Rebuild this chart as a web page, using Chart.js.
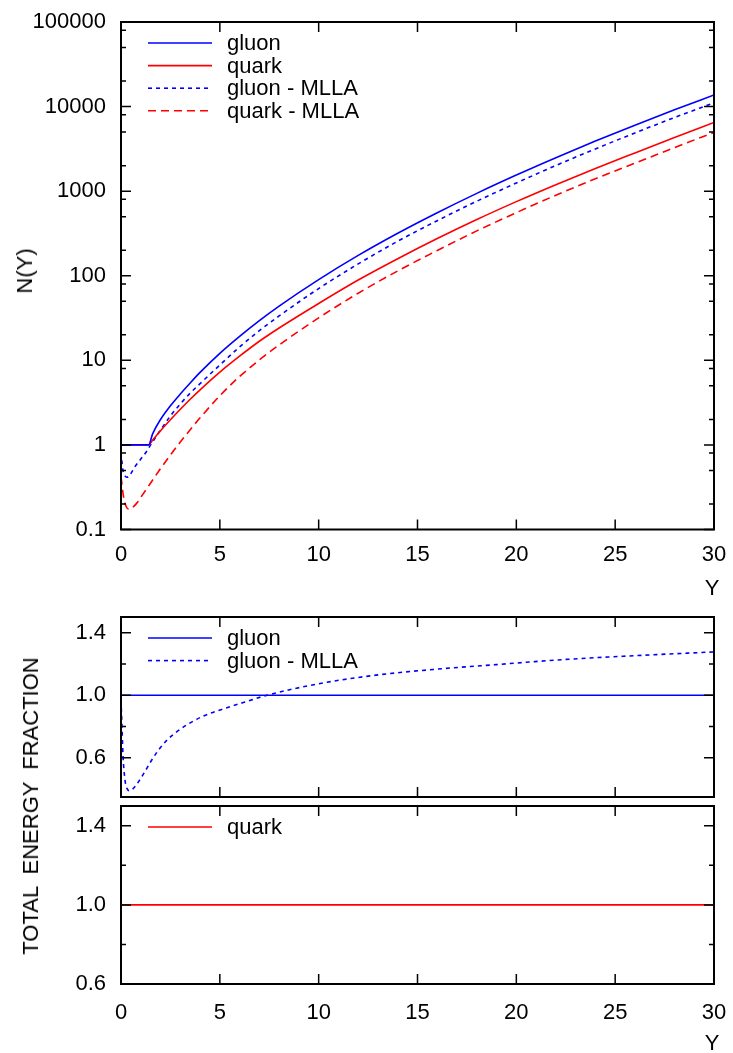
<!DOCTYPE html>
<html>
<head>
<meta charset="utf-8">
<script src="https://cdn.jsdelivr.net/npm/chart.js@4.4.1/dist/chart.umd.min.js"></script>
<style>
  html, body { margin: 0; padding: 0; background: #fff; }
  #wrap { position: relative; width: 733px; height: 1053px; font-family: 'Liberation Sans', Arial, sans-serif; }
  canvas { position: absolute; left: 0; }
  .lbl { position: absolute; font-size: 22px; color: #000; white-space: pre; transform: translate(-50%, -50%); }
  .rot { transform: translate(-50%, -50%) rotate(-90deg); }
</style>
</head>
<body>
<div id="wrap">
  <canvas id="nChart" width="733" height="600" style="top:0"></canvas>
  <canvas id="gluonChart" width="733" height="202" style="top:600px"></canvas>
  <canvas id="quarkChart" width="733" height="251" style="top:802px"></canvas>
  <div class="lbl rot" style="left:25px;top:271px">N(Y)</div>
  <div class="lbl" style="left:712px;top:588px">Y</div>
  <div class="lbl rot" style="left:31px;top:806px">TOTAL  ENERGY  FRACTION</div>
  <div class="lbl" style="left:712px;top:1043px">Y</div>
</div>
<script>
// --- multiplicity N(Y), top panel ---
const yGrid = [0, 0.5, 1, 1.4, 1.6, 2, 2.5, 3, 3.5, 4, 5, 6, 7, 8, 10, 12, 14, 16, 18, 20, 22, 24, 26, 28, 30];
const gluonN = [1, 1, 1, 1, 1.35, 2.0, 2.9, 4.0, 5.4, 7.2, 12.1, 19.2, 29.5, 43.8, 90, 174, 318, 556, 942, 1549, 2485, 3908, 6026, 9162, 13700];
const quarkN = [1, 1, 1, 1, 1.14, 1.47, 1.98, 2.64, 3.47, 4.48, 7.26, 11.2, 16.8, 24.1, 47, 89, 159, 275, 462, 752, 1193, 1856, 2832, 4300, 6500];

const gluonMllaY = [0, 0.05, 0.1, 0.2, 0.3, 0.45, 0.7, 1.0, 1.3, 1.5, 2, 2.5, 3, 3.5, 4, 5, 6, 7, 8, 10, 12, 14, 16, 18, 20, 22, 24, 26, 28, 30];
const gluonMllaN = [0.82, 0.62, 0.5, 0.43, 0.415, 0.44, 0.55, 0.68, 0.84, 1.0, 1.5, 2.2, 3.05, 4.1, 5.3, 8.8, 14.4, 22.4, 33.5, 70.5, 138, 256, 448, 760, 1250, 2010, 3160, 4880, 7420, 11100];

const quarkMllaY = [0, 0.05, 0.1, 0.2, 0.3, 0.4, 0.55, 0.8, 1.0, 1.5, 2, 2.5, 3, 3.5, 4, 5, 6, 7, 8, 10, 12, 14, 16, 18, 20, 22, 24, 26, 28, 30];
const quarkMllaN = [0.42, 0.34, 0.27, 0.204, 0.18, 0.174, 0.18, 0.205, 0.24, 0.355, 0.525, 0.76, 1.08, 1.51, 2.09, 3.81, 6.44, 10.1, 15.2, 31.8, 62.2, 114, 199, 339, 557, 895, 1403, 2148, 3273, 4955];

// --- total energy fraction, lower panels ---
const flatY = [0, 30];
const gluonE = [1.0, 1.0];
const quarkE = [1.0, 1.0];
const gluonMllaEY = [0, 0.05, 0.1, 0.2, 0.3, 0.45, 0.7, 0.9, 1.2, 1.5, 1.9, 2.3, 2.8, 3.4, 4.2, 5.4, 6.4, 7.3, 8.8, 10.6, 13, 15.8, 19, 22.5, 26, 30];
const gluonMllaE = [0.97, 0.8, 0.62, 0.46, 0.405, 0.39, 0.415, 0.45, 0.51, 0.575, 0.65, 0.71, 0.765, 0.816, 0.869, 0.922, 0.962, 0.997, 1.043, 1.087, 1.13, 1.165, 1.196, 1.229, 1.253, 1.277];

// axis ticks
const xTicks = [0, 5, 10, 15, 20, 25, 30];
const nTicks = [0.1, 1, 10, 100, 1000, 10000, 100000];
const nMinor = [0.2, 0.5, 0.8, 2, 5, 8, 20, 50, 80, 200, 500, 800, 2000, 5000, 8000, 20000, 50000, 80000];
const eTicks = [0.6, 1.0, 1.4];
const eMinor = [0.8, 1.2];

const BLUE = '#0000ff';
const RED = '#ff0000';
const FONT = { family: "'Liberation Sans', Arial, sans-serif", size: 22 };

const pts = (xs, ys) => xs.map((x, i) => ({ x: x, y: ys[i] }));

function line(label, xs, ys, color, dash) {
    return {
        label: label,
        data: pts(xs, ys),
        borderColor: color,
        backgroundColor: 'transparent',
        borderWidth: 1.6,
        borderDash: dash || [],
        pointRadius: 0,
        fill: false,
        cubicInterpolationMode: 'monotone'
    };
}

// frame with inward ticks on all four sides (gnuplot style)
const frameTicks = {
    id: 'frameTicks',
    afterDatasetsDraw(chart, args, opts) {
        const { ctx, chartArea: a, scales } = chart;
        const sx = scales.x, sy = scales.y;
        ctx.save();
        ctx.strokeStyle = '#000';
        ctx.lineWidth = 1.5;
        ctx.beginPath();
        opts.xMajor.forEach(v => {
            const px = sx.getPixelForValue(v);
            ctx.moveTo(px, a.bottom); ctx.lineTo(px, a.bottom - 10);
            ctx.moveTo(px, a.top); ctx.lineTo(px, a.top + 10);
        });
        const yTick = (v, len) => {
            const py = sy.getPixelForValue(v);
            ctx.moveTo(a.left, py); ctx.lineTo(a.left + len, py);
            ctx.moveTo(a.right, py); ctx.lineTo(a.right - len, py);
        };
        opts.yMajor.forEach(v => yTick(v, 10));
        opts.yMinor.forEach(v => yTick(v, 5));
        ctx.stroke();
        ctx.lineWidth = 2;
        ctx.strokeRect(a.left, a.top, a.right - a.left, a.bottom - a.top);
        ctx.restore();
    }
};

// key drawn inside the plot, sample line then label
const keyBox = {
    id: 'keyBox',
    afterDatasetsDraw(chart) {
        const { ctx, chartArea: a } = chart;
        ctx.save();
        ctx.font = '22px "Liberation Sans", Arial, sans-serif';
        ctx.textBaseline = 'middle';
        chart.data.datasets.forEach((ds, i) => {
            const yy = a.top + 21 + i * 22.6;
            ctx.strokeStyle = ds.borderColor;
            ctx.lineWidth = ds.borderWidth;
            ctx.setLineDash(ds.borderDash);
            ctx.beginPath();
            ctx.moveTo(a.left + 27, yy);
            ctx.lineTo(a.left + 91, yy);
            ctx.stroke();
            ctx.setLineDash([]);
            ctx.fillStyle = '#000';
            ctx.fillText(ds.label, a.left + 106, yy + 1);
        });
        ctx.restore();
    }
};

function xScale(showLabels, height, pad) {
    return {
        type: 'linear',
        min: 0,
        max: 30,
        afterBuildTicks: s => { s.ticks = xTicks.map(v => ({ value: v })); },
        afterFit: s => { s.height = height; s.paddingLeft = 0; s.paddingRight = 0; },
        grid: { display: false, drawTicks: false },
        border: { display: false },
        ticks: { display: showLabels, color: '#000', font: FONT, padding: pad, maxRotation: 0, autoSkip: false }
    };
}

function yScale(type, min, max, ticks, fmt) {
    return {
        type: type,
        min: min,
        max: max,
        afterBuildTicks: s => { s.ticks = ticks.map(v => ({ value: v })); },
        afterFit: s => { s.width = 121; s.paddingTop = 0; s.paddingBottom = 0; },
        grid: { display: false, drawTicks: false },
        border: { display: false },
        ticks: { color: '#000', font: FONT, padding: 15, autoSkip: false, callback: fmt }
    };
}

function baseOptions(padTop, xs, ys, minor, yMajor) {
    return {
        responsive: false,
        animation: false,
        layout: { padding: { top: padTop, right: 19, left: 0, bottom: 0 } },
        plugins: {
            legend: { display: false },
            tooltip: { enabled: false },
            frameTicks: { xMajor: xTicks, yMajor: yMajor, yMinor: minor }
        },
        scales: { x: xs, y: ys }
    };
}

const fmtN = v => String(v);
const fmtE = v => Number(v).toFixed(1);

try {
    new Chart(document.getElementById('nChart'), {
        type: 'line',
        data: {
            datasets: [
                line('gluon', yGrid, gluonN, BLUE),
                line('quark', yGrid, quarkN, RED),
                line('gluon - MLLA', gluonMllaY, gluonMllaN, BLUE, [4, 4]),
                line('quark - MLLA', quarkMllaY, quarkMllaN, RED, [8, 5])
            ]
        },
        options: baseOptions(22, xScale(true, 70.5, 12), yScale('logarithmic', 0.1, 100000, nTicks, fmtN), nMinor, nTicks),
        plugins: [keyBox, frameTicks]
    });

    new Chart(document.getElementById('gluonChart'), {
        type: 'line',
        data: {
            datasets: [
                line('gluon', flatY, gluonE, BLUE),
                line('gluon - MLLA', gluonMllaEY, gluonMllaE, BLUE, [4, 4])
            ]
        },
        options: baseOptions(17, xScale(false, 5, 10), yScale('linear', 0.35, 1.5, eTicks, fmtE), eMinor, eTicks),
        plugins: [keyBox, frameTicks]
    });

    new Chart(document.getElementById('quarkChart'), {
        type: 'line',
        data: {
            datasets: [
                line('quark', flatY, quarkE, RED)
            ]
        },
        options: baseOptions(4, xScale(true, 69, 16), yScale('linear', 0.6, 1.5, eTicks, fmtE), eMinor, eTicks),
        plugins: [keyBox, frameTicks]
    });
} catch (e) {
    console.error("Error drawing charts:", e);
}
</script>
</body>
</html>
